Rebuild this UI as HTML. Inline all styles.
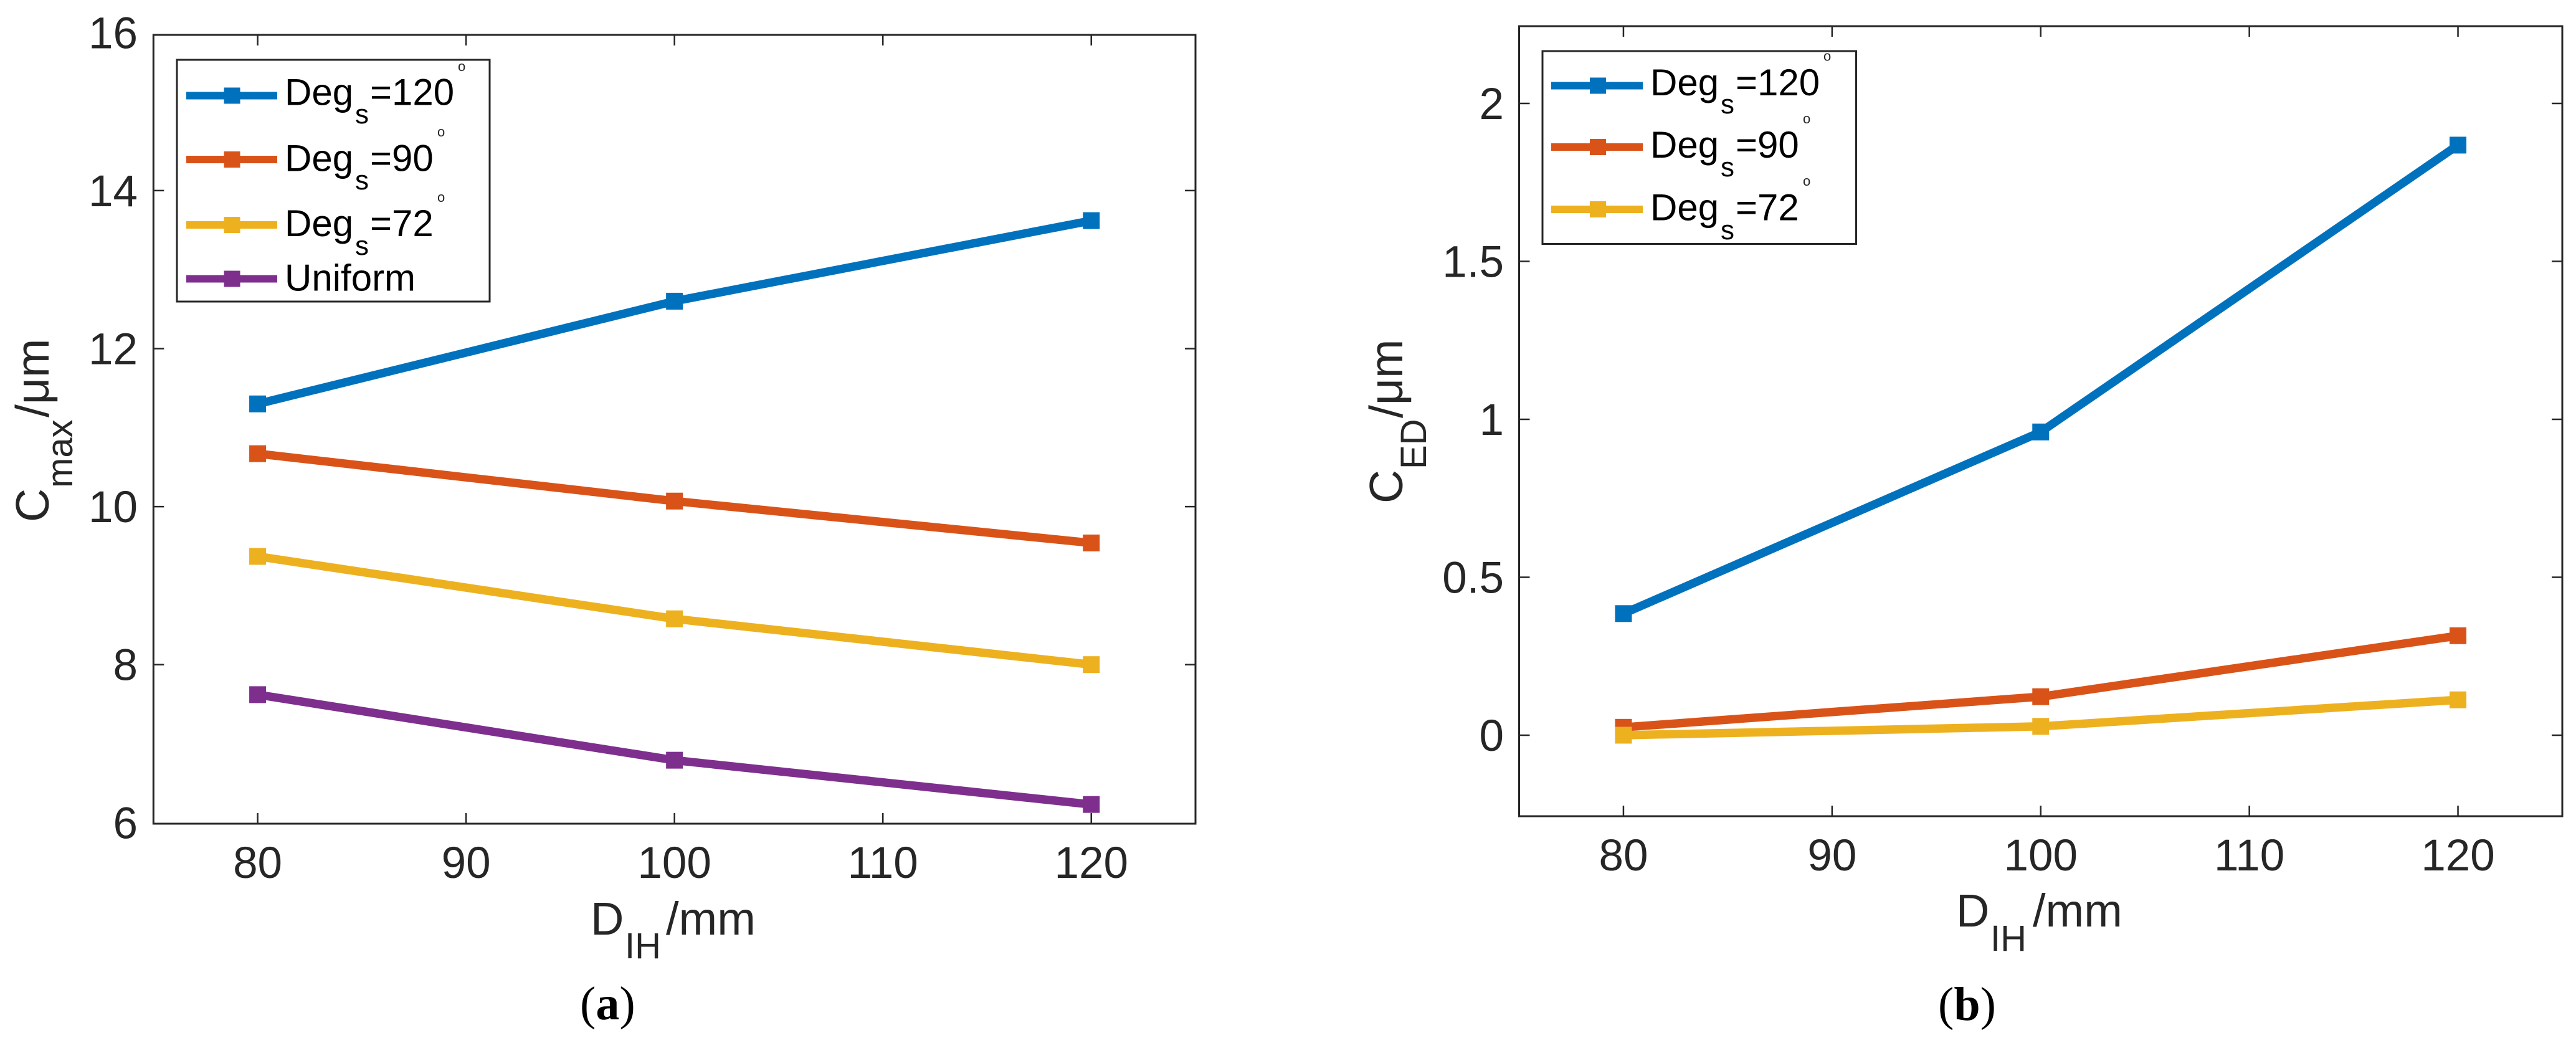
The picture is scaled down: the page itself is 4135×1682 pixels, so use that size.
<!DOCTYPE html>
<html lang="en">
<head>
<meta charset="utf-8">
<title>C_max and C_ED versus D_IH</title>
<style>
  html, body { margin: 0; padding: 0; background: #ffffff; }
  svg { display: block; }
  text { font-family: "Liberation Sans", Arial, sans-serif; }
  .tick-label { font-size: 71px; fill: #262626; }
  .axis-title { font-size: 75px; fill: #262626; }
  .axis-sub { font-size: 58px; fill: #262626; }
  .leg { font-size: 60px; fill: #000000; }
  .leg-sub { font-size: 44px; fill: #000000; }
  .leg-deg { font-size: 22px; fill: #262626; }
  .caption { font-family: "Liberation Serif", "Times New Roman", serif; font-size: 76px; fill: #000000; }
</style>
</head>
<body>
<svg id="figure" xmlns="http://www.w3.org/2000/svg" width="4135" height="1682" viewBox="0 0 4135 1682">
  <rect x="0" y="0" width="4135" height="1682" fill="#ffffff"/>

  <g id="panel-a"></g>
  <g id="panel-b"></g>

  <!-- Panel a axis titles -->
  <g>
    <text class="axis-title" transform="translate(78 838) rotate(-90)">C</text>
    <text class="axis-sub" transform="translate(116 783) rotate(-90)">max</text>
    <text class="axis-title" transform="translate(78 670) rotate(-90)">/μm</text>
  </g>
  <g>
    <text class="axis-title" x="948" y="1500" style="font-size:74px">D</text>
    <text class="axis-sub" x="1003" y="1538">IH</text>
    <text class="axis-title" x="1069" y="1500" style="font-size:74px">/mm</text>
  </g>
  <text class="caption" x="931" y="1636">(<tspan font-weight="bold">a</tspan>)</text>

  <!-- Panel b axis titles -->
  <g>
    <text class="axis-title" transform="translate(2251 808) rotate(-90)">C</text>
    <text class="axis-sub" transform="translate(2289 753) rotate(-90)">ED</text>
    <text class="axis-title" transform="translate(2251 671) rotate(-90)">/μm</text>
  </g>
  <g>
    <text class="axis-title" x="3140" y="1487" style="font-size:74px">D</text>
    <text class="axis-sub" x="3195" y="1526">IH</text>
    <text class="axis-title" x="3263" y="1487" style="font-size:74px">/mm</text>
  </g>
  <text class="caption" x="3111" y="1637">(<tspan font-weight="bold">b</tspan>)</text>

  <!-- Legend a -->
  <g>
    <rect x="284" y="96" width="502" height="388" fill="#ffffff" stroke="#262626" stroke-width="3"/>
    <g>
      <line x1="299" x2="445" y1="153.5" y2="153.5" stroke="#0072BD" stroke-width="12"/>
      <rect x="359.5" y="140.5" width="26" height="26" fill="#0072BD"/>
      <text class="leg" x="457" y="168.6">Deg</text><text class="leg-sub" x="570" y="198">s</text><text class="leg" x="594" y="168.6">=120</text>
      <text class="leg-deg" x="735" y="114">o</text>
    </g>
    <g>
      <line x1="299" x2="445" y1="256" y2="256" stroke="#D95319" stroke-width="12"/>
      <rect x="359.5" y="243" width="26" height="26" fill="#D95319"/>
      <text class="leg" x="457" y="274.3">Deg</text><text class="leg-sub" x="570" y="304">s</text><text class="leg" x="594" y="274.3">=90</text>
      <text class="leg-deg" x="702" y="219">o</text>
    </g>
    <g>
      <line x1="299" x2="445" y1="361" y2="361" stroke="#EDB120" stroke-width="12"/>
      <rect x="359.5" y="348" width="26" height="26" fill="#EDB120"/>
      <text class="leg" x="457" y="379">Deg</text><text class="leg-sub" x="570" y="409">s</text><text class="leg" x="594" y="379">=72</text>
      <text class="leg-deg" x="702" y="324">o</text>
    </g>
    <g>
      <line x1="299" x2="445" y1="447.5" y2="447.5" stroke="#7E2F8E" stroke-width="12"/>
      <rect x="359.5" y="434.5" width="26" height="26" fill="#7E2F8E"/>
      <text class="leg" x="457" y="466.4">Uniform</text>
    </g>
  </g>

  <!-- Legend b -->
  <g>
    <rect x="2476" y="82" width="503.5" height="309.5" fill="#ffffff" stroke="#262626" stroke-width="3"/>
    <g>
      <line x1="2490" x2="2637" y1="137.5" y2="137.5" stroke="#0072BD" stroke-width="12"/>
      <rect x="2552" y="124.5" width="26" height="26" fill="#0072BD"/>
      <text class="leg" x="2649" y="153">Deg</text><text class="leg-sub" x="2762" y="182">s</text><text class="leg" x="2786" y="153">=120</text>
      <text class="leg-deg" x="2927" y="97.5">o</text>
    </g>
    <g>
      <line x1="2490" x2="2637" y1="236" y2="236" stroke="#D95319" stroke-width="12"/>
      <rect x="2552" y="223" width="26" height="26" fill="#D95319"/>
      <text class="leg" x="2649" y="253">Deg</text><text class="leg-sub" x="2762" y="283">s</text><text class="leg" x="2786" y="253">=90</text>
      <text class="leg-deg" x="2894" y="198">o</text>
    </g>
    <g>
      <line x1="2490" x2="2637" y1="336" y2="336" stroke="#EDB120" stroke-width="12"/>
      <rect x="2552" y="323" width="26" height="26" fill="#EDB120"/>
      <text class="leg" x="2649" y="353.5">Deg</text><text class="leg-sub" x="2762" y="384">s</text><text class="leg" x="2786" y="353.5">=72</text>
      <text class="leg-deg" x="2894" y="298">o</text>
    </g>
  </g>
</svg>

<script>
// Shared x categories and tick labels
const diameters = [80, 100, 120];
const xTickValues = [80, 90, 100, 110, 120];
const xTickLabels = ['80', '90', '100', '110', '120'];

// Panel a: C_max values (um)
const cmaxDeg120 = [11.30, 12.60, 13.62];
const cmaxDeg90 = [10.67, 10.07, 9.54];
const cmaxDeg72 = [9.37, 8.58, 8.00];
const cmaxUniform = [7.62, 6.79, 6.23];
const cmaxTickValues = [6, 8, 10, 12, 14, 16];
const cmaxTickLabels = ['6', '8', '10', '12', '14', '16'];

// Panel b: C_ED values (um)
const cedDeg120 = [0.385, 0.96, 1.868];
const cedDeg90 = [0.025, 0.122, 0.315];
const cedDeg72 = [0.00, 0.028, 0.112];
const cedTickValues = [0, 0.5, 1, 1.5, 2];
const cedTickLabels = ['0', '0.5', '1', '1.5', '2'];

const SVG_NS = 'http://www.w3.org/2000/svg';
const AXIS_COLOR = '#262626';
const TICK_LEN = 17;
const MARKER = 27;

function make(tag, attrs, parent) {
  const el = document.createElementNS(SVG_NS, tag);
  for (const k in attrs) el.setAttribute(k, attrs[k]);
  parent.appendChild(el);
  return el;
}

function linearScale(d0, d1, r0, r1) {
  return function (v) { return r0 + (v - d0) * (r1 - r0) / (d1 - d0); };
}

function drawPanel(cfg) {
  const root = document.getElementById(cfg.id);
  const x = linearScale(75, 125, cfg.left, cfg.right);
  const y = linearScale(cfg.yDomain[0], cfg.yDomain[1], cfg.yRange[0], cfg.yRange[1]);

  // x ticks and labels
  xTickValues.forEach(function (v, i) {
    const px = x(v);
    const tb = make('line', { x1: px, x2: px, y1: cfg.bottom, y2: cfg.bottom - TICK_LEN, stroke: AXIS_COLOR, 'stroke-width': 2.5 }, root);
    
    
    const tt = make('line', { x1: px, x2: px, y1: cfg.top, y2: cfg.top + TICK_LEN, stroke: AXIS_COLOR, 'stroke-width': 2.5 }, root);
    
    
    const lab = make('text', { x: px, y: cfg.xLabelY, 'text-anchor': 'middle', class: 'tick-label' }, root);
    
    
    lab.textContent = xTickLabels[i];
  });

  // y ticks and labels
  cfg.yTicks.forEach(function (v, i) {
    const py = y(v);
    if (py > cfg.top && py < cfg.bottom - 4) {
      const tl = make('line', { x1: cfg.left, x2: cfg.left + TICK_LEN, y1: py, y2: py, stroke: AXIS_COLOR, 'stroke-width': 2.5 }, root);
      
      
      const tr = make('line', { x1: cfg.right, x2: cfg.right - TICK_LEN, y1: py, y2: py, stroke: AXIS_COLOR, 'stroke-width': 2.5 }, root);
      
      
    }
    const lab = make('text', { x: cfg.yLabelX, y: py + 25, 'text-anchor': 'end', class: 'tick-label' }, root);
    
    
    lab.textContent = cfg.yTickLabels[i];
  });

  // axes box
  const box = make('rect', { x: cfg.left, y: cfg.top, width: cfg.right - cfg.left, height: cfg.bottom - cfg.top, fill: 'none', stroke: AXIS_COLOR, 'stroke-width': 3 }, root);
  
  

  // series
  cfg.series.forEach(function (s) {
    const g = make('g', {}, root);
    
    
    const pts = s.values.map(function (v, i) { return x(diameters[i]) + ',' + y(v); }).join(' ');
    const line = make('polyline', { points: pts, fill: 'none', stroke: s.color, 'stroke-width': 13.5, 'stroke-linejoin': 'round' }, g);
    
    
    s.values.forEach(function (v, i) {
      const m = make('rect', { x: x(diameters[i]) - MARKER / 2, y: y(v) - MARKER / 2, width: MARKER, height: MARKER, fill: s.color }, g);
      
      
    });
  });
}

drawPanel({
  id: 'panel-a',
  left: 246.3, right: 1919, top: 56, bottom: 1322,
  yDomain: [6, 16], yRange: [1320.3, 52.3],
  yTicks: cmaxTickValues, yTickLabels: cmaxTickLabels,
  yLabelX: 221, xLabelY: 1409,
  series: [
    { name: 'deg-120', color: '#0072BD', values: cmaxDeg120 },
    { name: 'deg-90', color: '#D95319', values: cmaxDeg90 },
    { name: 'deg-72', color: '#EDB120', values: cmaxDeg72 },
    { name: 'uniform', color: '#7E2F8E', values: cmaxUniform }
  ]
});

drawPanel({
  id: 'panel-b',
  left: 2438.5, right: 4113, top: 42, bottom: 1310,
  yDomain: [-0.25, 2.25], yRange: [1306.75, 39.25],
  yTicks: cedTickValues, yTickLabels: cedTickLabels,
  yLabelX: 2414, xLabelY: 1397,
  series: [
    { name: 'deg-120', color: '#0072BD', values: cedDeg120 },
    { name: 'deg-90', color: '#D95319', values: cedDeg90 },
    { name: 'deg-72', color: '#EDB120', values: cedDeg72 }
  ]
});
</script>
</body>
</html>
